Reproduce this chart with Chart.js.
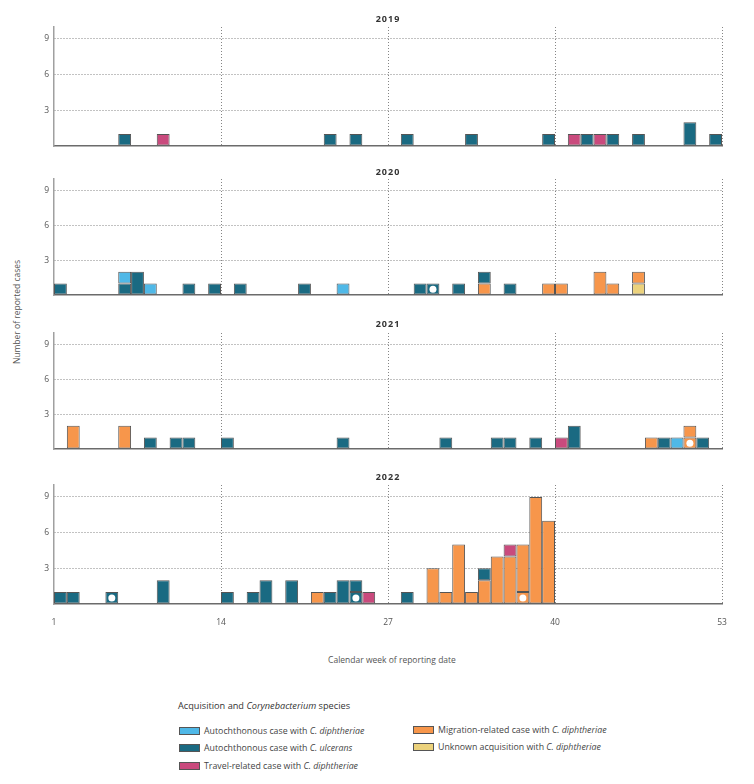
<!DOCTYPE html>
<html>
<head>
<meta charset="utf-8">
<script src="https://cdn.jsdelivr.net/npm/chart.js@4.4.1/dist/chart.umd.min.js"></script>
<style>
  body { margin: 0; background: #fff; font-family: "Open Sans", sans-serif; }
  #wrap { position: relative; width: 754px; height: 784px; overflow: hidden; }
  .panel { position: absolute; left: 0; }
  .yr { position: absolute; left: 388px; transform: translate(-50%, -50%); font-size: 9px; font-weight: bold; color: #333; letter-spacing: 1px; }
  .axt { position: absolute; font-size: 8.5px; color: #555; white-space: nowrap; }
  .lg { position: absolute; font-size: 8.8px; color: #444; white-space: nowrap; transform: translateY(-50%); }
  .lg .sw { display: inline-block; width: 19px; height: 6px; border: 1px solid #555; vertical-align: middle; margin-right: 4px; margin-top: -2px; }
</style>
</head>
<body>
<div id="wrap">
  <div class="axt" style="left:16px; top:312px; transform: translate(-50%, -50%) rotate(-90deg);">Number of reported cases</div>
  <div class="axt" style="left:392px; top:659px; transform: translate(-50%, -50%);">Calendar week of reporting date</div>
  <div class="lg" style="left:178px; top:705px; font-size:9.2px; color:#333;">Acquisition and <i>Corynebacterium</i> species</div>
</div>
<script>
const years = ['2019', '2020', '2021', '2022'];
const xTicks = [1, 14, 27, 40, 53];
const yTicks = [0, 3, 6, 9];

// [calendar week, number of cases]
const ulcerans2019 = [[6,1],[22,1],[24,1],[28,1],[33,1],[39,1],[42,1],[44,1],[46,1],[50,2],[52,1]];
const travel2019 = [[9,1],[41,1],[43,1]];

const ulcerans2020 = [[1,1],[6,1],[7,2],[11,1],[13,1],[15,1],[20,1],[29,1],[32,1],[34,1],[36,1]];
const ulceransDot2020 = [[30,1]];
const autoDiph2020 = [[6,1],[8,1],[23,1]];
const migration2020 = [[34,1],[39,1],[40,1],[43,2],[44,1],[46,1]];
const unknown2020 = [[46,1]];

const migration2021 = [[2,2],[6,2],[47,1],[50,1]];
const migrationDot2021 = [[50,1]];
const ulcerans2021 = [[8,1],[10,1],[11,1],[14,1],[23,1],[31,1],[35,1],[36,1],[38,1],[41,2],[48,1],[51,1]];
const travel2021 = [[40,1]];
const autoDiph2021 = [[49,1]];

const ulcerans2022 = [[1,1],[2,1],[9,2],[14,1],[16,1],[17,2],[19,2],[22,1],[23,2],[24,1],[28,1],[34,1]];
const ulceransDot2022 = [[5,1],[24,1]];
const migration2022 = [[21,1],[30,3],[31,1],[32,5],[33,1],[34,2],[35,4],[36,4],[37,4],[38,9],[39,7]];
const migrationDot2022 = [[37,1]];
const travel2022 = [[25,1],[36,1]];

const legendLabels = [
  ['Autochthonous case with ', 'C. diphtheriae'],
  ['Autochthonous case with ', 'C. ulcerans'],
  ['Travel-related case with ', 'C. diphtheriae'],
  ['Migration-related case with ', 'C. diphtheriae'],
  ['Unknown acquisition with ', 'C. diphtheriae']
];

const LIGHTBLUE = '#4fb8e7';
const TEAL = '#1a6a82';
const PINK = '#c94a7d';
const ORANGE = '#f7964b';
const YELLOW = '#ecd27c';
const legendColors = [LIGHTBLUE, TEAL, PINK, ORANGE, YELLOW];
const legendPos = [[179,731],[179,748],[179,766],[413,730],[413,747]];

const panels = [
  { ulcerans: ulcerans2019, travel: travel2019 },
  { ulcerans: ulcerans2020, ulceransDot: ulceransDot2020, autoDiph: autoDiph2020, migration: migration2020, unknown: unknown2020 },
  { migration: migration2021, migrationDot: migrationDot2021, ulcerans: ulcerans2021, travel: travel2021, autoDiph: autoDiph2021 },
  { ulcerans: ulcerans2022, ulceransDot: ulceransDot2022, migration: migration2022, migrationDot: migrationDot2022, travel: travel2022 }
];
const baselines = [146, 298, 452, 604];
const yearTitleY = [18, 171, 323, 476];

function weekly(pairs){
  const out = [];
  for(let w = 1; w <= 52; w++){
    const hit = (pairs || []).find(p => p[0] === w);
    out.push({ x: w + 0.5, y: hit ? hit[1] : 0 });
  }
  return out;
}

function barSet(pairs, color){
  return {
    data: weekly(pairs),
    backgroundColor: color,
    borderColor: '#555',
    borderWidth: 1,
    borderSkipped: false,
    inflateAmount: 0,
    barPercentage: 1,
    categoryPercentage: 1
  };
}

const tickFont = { family: 'Open Sans', size: 8.5 };
const GRID = '#858585';
const wrap = document.getElementById('wrap');

function makeChart(i){
  const p = panels[i];
  const last = i === panels.length - 1;
  const div = document.createElement('div');
  div.className = 'panel';
  div.style.top = (baselines[i] - 125) + 'px';
  const canvas = document.createElement('canvas');
  canvas.width = 754;
  canvas.height = last ? 154 : 126;
  div.appendChild(canvas);
  wrap.appendChild(div);

  const t = document.createElement('div');
  t.className = 'yr';
  t.style.top = yearTitleY[i] + 'px';
  t.textContent = years[i];
  wrap.appendChild(t);

  // stacking order bottom -> top
  const sets = [
    barSet(p.ulceransDot, TEAL),
    barSet(p.migrationDot, ORANGE),
    barSet(p.unknown, YELLOW),
    barSet(p.migration, ORANGE),
    barSet(p.ulcerans, TEAL),
    barSet(p.autoDiph, LIGHTBLUE),
    barSet(p.travel, PINK)
  ];
  const dots = [...(p.ulceransDot || []), ...(p.migrationDot || [])].map(d => ({ x: d[0] + 0.5, y: 0.5 }));
  sets.push({ type: 'scatter', data: dots, pointRadius: 3.5, pointBackgroundColor: '#fff', pointBorderWidth: 0, order: -1 });

  new Chart(canvas, {
    type: 'bar',
    data: { datasets: sets },
    options: {
      responsive: false,
      animation: false,
      layout: { padding: { left: 0, right: 32, top: 6, bottom: 1 } },
      plugins: { legend: { display: false }, tooltip: { enabled: false } },
      scales: {
        x: {
          type: 'linear', min: 1, max: 53, stacked: true, offset: false,
          afterBuildTicks: s => { s.ticks = xTicks.map(v => ({ value: v })); },
          afterFit: s => { s.height = last ? 28 : 0; s.paddingLeft = 0; s.paddingRight = 0; },
          grid: { offset: false, drawTicks: false, lineWidth: 1,
                  color: c => (c.tick && c.tick.value === 1) ? 'rgba(0,0,0,0)' : GRID },
          border: { display: true, color: '#6b6b6b', width: 1.5, dash: [1, 2] },
          ticks: { display: last, padding: 13, color: '#555', font: tickFont, maxRotation: 0, autoSkip: false,
                   callback: v => String(v) }
        },
        y: {
          min: 0, max: 10, stacked: true,
          afterBuildTicks: s => { s.ticks = yTicks.map(v => ({ value: v })); },
          afterFit: s => { s.width = 54; s.paddingTop = 0; s.paddingBottom = 0; },
          grid: { drawTicks: false, lineWidth: 1,
                  color: c => (c.tick && c.tick.value === 0) ? 'rgba(0,0,0,0)' : GRID },
          border: { display: true, color: '#a0a0a0', width: 1.5, dash: [1, 2] },
          ticks: { padding: 5, color: '#555', font: tickFont, callback: v => v === 0 ? '' : String(v) }
        }
      }
    }
  });
}

for(let i = 0; i < panels.length; i++) makeChart(i);

legendLabels.forEach((lab, k) => {
  const d = document.createElement('div');
  d.className = 'lg';
  d.style.left = legendPos[k][0] + 'px';
  d.style.top = legendPos[k][1] + 'px';
  d.innerHTML = '<span class="sw" style="background:' + legendColors[k] + '"></span>' + lab[0] + '<i>' + lab[1] + '</i>';
  wrap.appendChild(d);
});
</script>
</body>
</html>
